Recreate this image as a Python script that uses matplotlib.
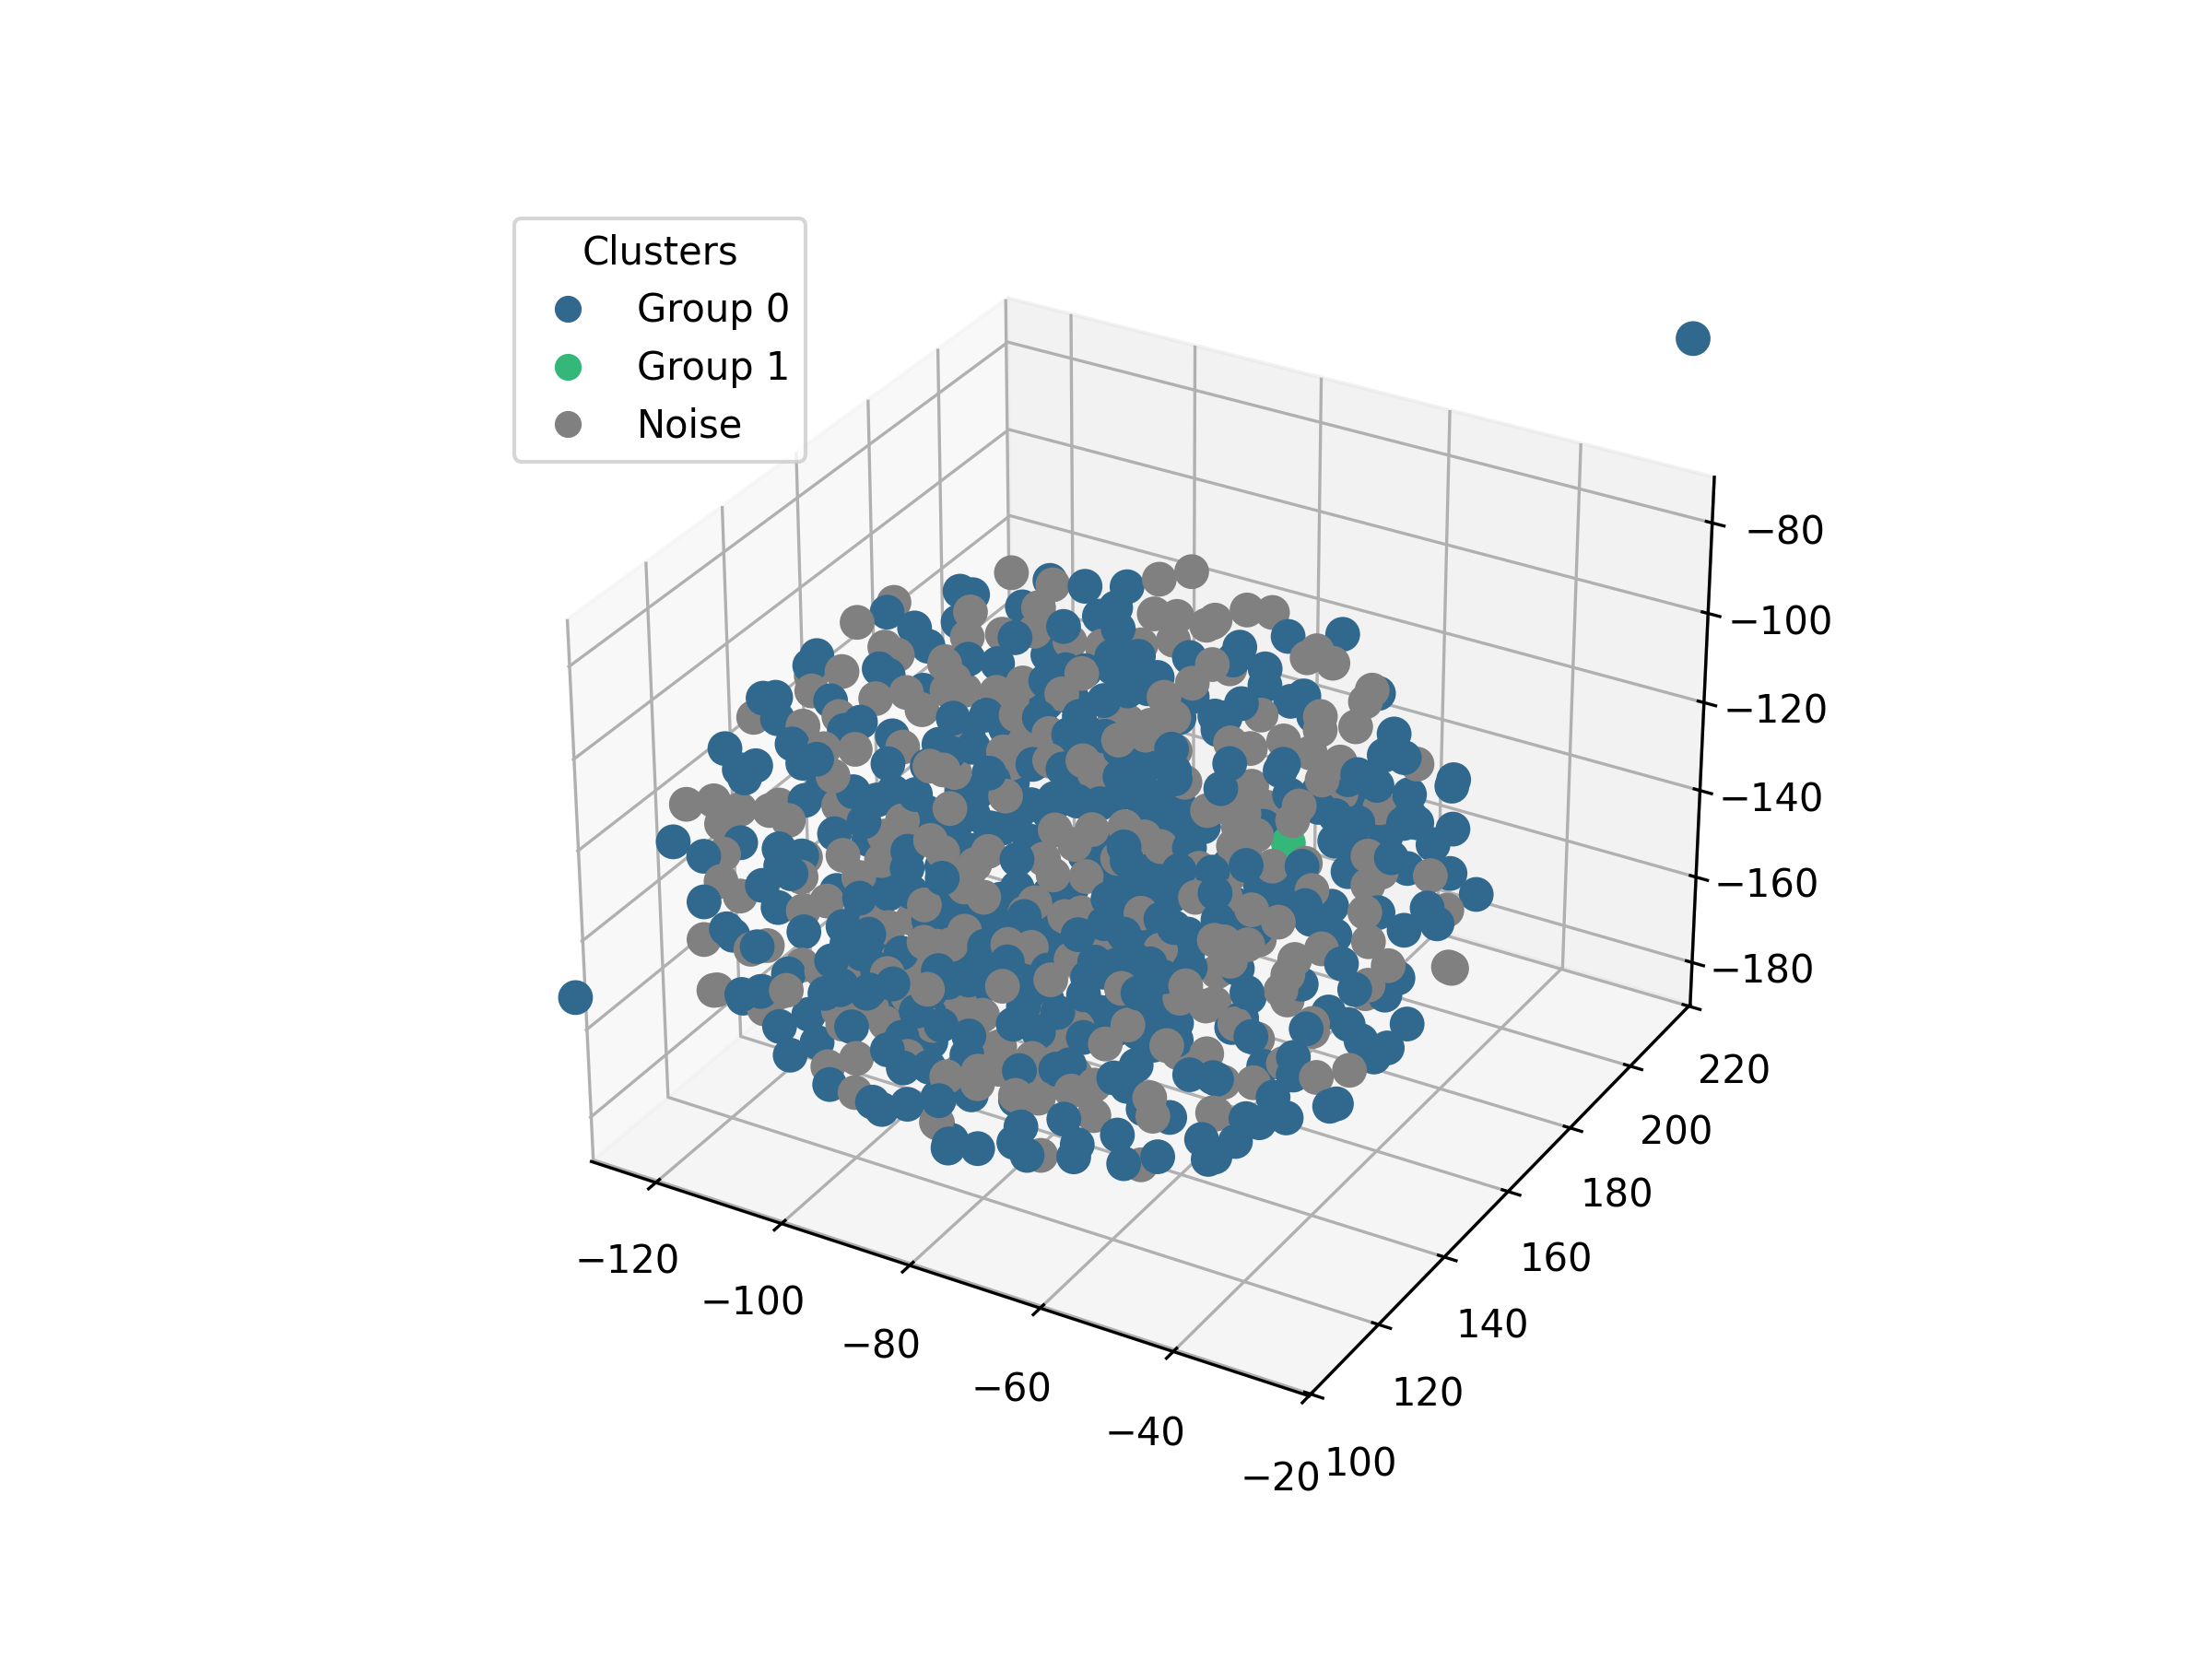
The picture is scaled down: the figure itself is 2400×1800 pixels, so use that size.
import numpy as np
import matplotlib
matplotlib.use("Agg")
import matplotlib.pyplot as plt
from matplotlib.lines import Line2D

# Cluster coordinates
group0_x = [
 -124,-118,-119,-125,-125,-120,-115,-113,-108,-112,-110,-105,-120,-118,-116,-112,-107,-108,-119,-113,-115,-88,-93,-87,-107,
 -108,-114,-109,-104,-101,-96,-94,-90,-86,-90,-95,-85,-111,-109,-100,-95,-90,-108,-100,-99,-93,-89,-87,-85,-74,
 -72,-68,-67,-98,-94,-86,-84,-81,-78,-75,-72,-74,-76,-92,-88,-81,-76,-76,-74,-75,-71,-85,-87,-81,-76,
 -72,-60,-64,-58,-74,-66,-77,-76,-71,-70,-55,-63,-61,-69,-66,-67,-56,-52,-57,-41,-40,-38,-33,-40,-125,
 -122,-116,-118,-119,-126,-121,-117,-117,-109,-116,-111,-110,-105,-105,-121,-131,-125,-128,-114,-111,-110,-105,-112,-124,-117,
 -114,-114,-115,-122,-115,-112,-102,-98,-95,-96,-95,-105,-100,-96,-96,-91,-113,-112,-107,-96,-101,-93,-89,-86,-106,
 -103,-93,-79,-79,-114,-112,-108,-105,-106,-107,-103,-112,-110,-101,-99,-97,-93,-91,-87,-84,-80,-83,-84,-86,-83,
 -87,-90,-92,-90,-92,-94,-98,-99,-100,-97,-101,-103,-104,-104,-105,-91,-89,-87,-89,-84,-82,-81,-78,-78,-75,
 -76,-73,-71,-70,-80,-78,-75,-94,-96,-92,-88,-86,-68,-70,-96,-88,-80,-87,-84,-81,-76,-74,-70,-72,-66,
 -91,-73,-72,-90,-83,-63,-63,-59,-89,-77,-68,-65,-67,-64,-60,-58,-61,-59,-57,-54,-77,-73,-68,-69,-65,
 -62,-62,-75,-77,-55,-74,-77,-72,-69,-74,-67,-73,-72,-68,-58,-59,-56,-53,-63,-62,-59,-57,-44,-54,-49,
 -57,-65,-63,-55,-52,-54,-46,-44,-45,-41,-39,-54,-60,-48,-41,-36,-42,-32,-36,-34,-37,-40,-45,-47,-50,
 -56,-54,-41,-39,-33,-36,-48,-40,-44,-115,-111,-107,-105,-123,-121,-116,-113,-110,-112,-107,-103,-102,-101,-90,-90,
 -90,-87,-83,-89,-87,-83,-77,-75,-77,-107,-97,-95,-87,-84,-79,-78,-80,-98,-96,-90,-90,-86,-84,-80,-81,
 -76,-72,-67,-66,-89,-68,-85,-88,-73,-74,-78,-77,-69,-64,-62,-56,-59,-53,-50,-78,-78,-74,-69,-69,-67,
 -61,-61,-56,-51,-54,-46,-44,-70,-57,-57,-51,-48,-45,-43,-41,-44,-60,-60,-55,-52,-47,-47,-51,-44,-37,
 -36,-44,-42,-39,-43,-45,
 -27.2,-134.7,
]
group0_y = [
 173,174,172,155,153,150,155,154,155,140,141,141,132,132,129,126,124,122,120,118,117,124,119,119,189,
 185,178,180,183,185,188,189,190,189,179,175,177,171,171,177,178,181,165,169,165,168,171,172,169,169,
 166,165,164,150,151,150,152,152,154,156,153,151,148,135,137,139,141,138,139,136,139,128,125,125,128,
 129,137,130,134,199,200,190,186,186,184,189,178,178,170,169,164,171,154,148,165,160,162,167,152,163,
 163,169,166,165,157,152,156,152,157,146,149,144,153,150,144,125,133,128,140,143,145,147,142,133,130,
 131,128,127,118,122,121,126,127,128,129,127,116,118,118,116,118,109,109,107,108,105,105,106,107,101,
 101,101,107,105,176,177,180,180,178,175,176,170,172,178,180,182,183,184,185,185,185,182,179,176,176,
 174,172,172,174,168,165,163,160,157,158,156,154,153,154,154,158,159,158,156,158,160,157,158,164,166,
 166,162,163,161,159,158,158,143,140,143,145,145,155,152,153,159,161,154,155,156,159,159,160,161,163,
 143,148,147,136,136,148,145,147,126,127,134,135,131,131,134,134,128,129,129,131,116,115,117,114,120,
 119,117,108,106,118,192,187,187,186,183,186,178,178,178,188,190,190,188,187,185,177,177,190,187,187,
 184,179,178,176,177,174,179,179,179,178,180,164,159,166,170,173,167,173,166,165,161,159,155,151,147,
 142,139,148,146,151,144,133,136,128,152,152,151,150,129,131,127,130,127,123,129,129,123,115,120,116,
 112,111,111,106,105,105,103,102,104,159,165,166,167,166,169,166,167,151,145,150,147,147,149,149,151,
 152,150,152,150,132,142,126,122,132,130,127,124,123,128,128,129,127,129,130,108,107,108,111,109,109,
 112,111,114,116,112,119,119,180,179,172,173,171,169,169,171,170,158,155,151,149,148,148,133,136,139,
 139,128,128,130,123,119,
 228.0,104.1,
]
group0_z = [
 -111,-117,-112,-110,-111,-115,-109,-109,-111,-112,-110,-111,-103,-102,-104,-106,-106,-106,-106,-106,-107,-95,-98,-96,-124,
 -134,-138,-136,-130,-129,-122,-122,-123,-130,-133,-135,-133,-100,-100,-97,-97,-97,-102,-98,-102,-99,-97,-95,-97,-99,
 -105,-107,-109,-97,-97,-97,-95,-94,-91,-91,-95,-95,-96,-98,-97,-96,-95,-97,-96,-99,-96,-97,-97,-99,-97,
 -97,-93,-96,-95,-113,-110,-111,-111,-111,-113,-112,-110,-108,-111,-106,-108,-106,-104,-102,-100,-101,-102,-108,-100,-151,
 -156,-151,-150,-145,-142,-160,-158,-163,-165,-166,-167,-168,-161,-162,-134,-135,-138,-139,-136,-134,-130,-128,-127,-123,-134,
 -135,-137,-135,-140,-136,-139,-136,-134,-133,-125,-127,-138,-136,-136,-139,-138,-136,-137,-136,-135,-138,-138,-137,-135,-142,
 -140,-136,-129,-132,-150,-150,-148,-152,-153,-155,-157,-154,-151,-151,-148,-146,-147,-146,-146,-146,-150,-151,-156,-158,-160,
 -158,-157,-153,-150,-158,-158,-157,-158,-160,-161,-158,-157,-158,-154,-149,-160,-160,-162,-162,-162,-161,-165,-164,-153,-151,
 -148,-157,-156,-159,-151,-154,-155,-158,-160,-158,-159,-159,-160,-161,-125,-123,-125,-126,-126,-126,-125,-127,-127,-120,-121,
 -127,-127,-129,-127,-126,-123,-126,-126,-126,-130,-127,-125,-130,-131,-128,-129,-133,-134,-136,-134,-129,-130,-131,-134,-124,
 -128,-130,-130,-130,-131,-152,-159,-161,-162,-164,-159,-167,-164,-164,-147,-139,-138,-143,-136,-138,-157,-157,-129,-131,-131,
 -129,-127,-131,-131,-132,-135,-131,-130,-129,-133,-130,-134,-133,-134,-133,-134,-129,-137,-137,-139,-139,-135,-133,-131,-132,
 -126,-129,-133,-137,-141,-140,-133,-135,-133,-184,-184,-187,-187,-170,-169,-172,-170,-173,-174,-160,-160,-163,-170,-152,-155,
 -155,-157,-155,-162,-162,-159,-154,-162,-138,-187,-187,-184,-184,-186,-183,-187,-179,-173,-178,-172,-174,-174,-170,-174,-166,
 -167,-170,-167,-169,-170,-170,-173,-172,-165,-165,-165,-169,-169,-161,-162,-167,-165,-156,-156,-167,-168,-167,-162,-164,-166,
 -163,-165,-160,-164,-164,-160,-163,-182,-179,-178,-175,-176,-177,-174,-169,-163,-167,-167,-164,-168,-167,-163,-159,-162,-163,
 -162,-161,-161,-160,-162,-164,
 -46.9,-157.6,
]
group1_x = [-68.6]
group1_y = [189.0]
group1_z = [-151.6]
noise_x = [
 -124,-126,-121,-119,-113,-126,-121,-123,-109,-106,-111,-114,-108,-121,-112,-107,-93,-86,-115,-109,-106,-89,-87,-93,-91,
 -88,-94,-102,-108,-98,-105,-99,-86,-82,-106,-106,-98,-101,-97,-92,-87,-85,-82,-81,-78,-74,-73,-77,-71,-72,
 -100,-98,-98,-92,-89,-83,-81,-69,-67,-84,-79,-69,-66,-81,-74,-60,-69,-84,-82,-78,-85,-70,-68,-65,-77,
 -56,-55,-55,-64,-54,-54,-62,-59,-55,-51,-47,-38,-120,-117,-111,-114,-113,-109,-107,-133,-131,-128,-125,-124,-122,
 -128,-126,-115,-106,-114,-114,-113,-108,-105,-121,-118,-106,-108,-93,-99,-93,-94,-88,-86,-116,-106,-108,-100,-97,-88,
 -111,-99,-79,-101,-84,-93,-99,-71,-67,-79,-75,-72,-70,-74,-82,-79,-88,-89,-89,-89,-86,-80,-78,-74,-61,
 -60,-90,-78,-77,-73,-71,-67,-63,-59,-53,-51,-80,-81,-74,-71,-67,-65,-58,-71,-76,-50,-82,-78,-75,-78,
 -76,-75,-68,-60,-53,-60,-70,-61,-61,-67,-69,-64,-61,-58,-54,-46,-38,-43,-44,-34,-41,-47,-52,-55,-48,
 -42,-37,-34,-35,-50,-47,-48,-41,-41,-41,-27,-27,-110,-126,-119,-119,-104,-107,-104,-103,-99,-97,-93,-88,-88,
 -78,-78,-102,-91,-92,-74,-95,-87,-84,-89,-97,-96,-98,-90,-82,-76,-73,-67,-63,-81,-84,-89,-85,-84,-87,
 -77,-74,-70,-67,-66,-58,-57,-57,-52,-49,-66,-53,-75,-64,-58,-57,-47,-59,-55,-49,-43,-39,-52,-48,-49,
]
noise_y = [
 175,168,167,167,170,155,155,150,152,151,147,142,136,131,129,126,123,118,179,183,180,186,186,183,183,
 182,178,169,165,171,175,176,183,185,164,165,170,165,167,168,168,168,170,172,173,174,174,170,170,166,
 147,146,144,147,149,149,151,152,151,138,138,139,141,129,129,138,129,118,202,202,198,197,196,195,187,
 187,187,182,171,169,169,158,158,160,160,161,166,164,167,156,151,143,148,148,132,136,138,141,142,141,
 133,130,143,145,140,132,129,132,131,121,121,124,121,128,127,130,120,119,119,108,108,107,107,107,109,
 102,101,104,151,160,151,146,162,161,150,152,152,153,148,145,145,137,135,133,132,132,138,137,139,147,
 144,128,129,130,131,132,131,134,132,136,133,116,114,117,118,116,118,119,110,107,122,195,196,195,192,
 190,183,179,188,186,182,176,177,175,172,170,163,164,163,165,168,171,166,164,168,157,153,145,143,145,
 146,150,150,146,133,134,131,136,134,132,154,155,146,127,132,128,132,128,124,118,119,115,123,121,114,
 107,104,158,163,162,166,152,152,154,150,144,149,147,151,151,148,149,153,153,136,132,126,128,126,120,
 124,125,127,128,126,127,126,130,132,128,111,115,179,180,176,174,170,154,153,149,147,149,137,138,129,
]
noise_z = [
 -110,-111,-114,-115,-116,-115,-112,-114,-110,-112,-109,-111,-112,-107,-104,-105,-97,-95,-129,-130,-138,-131,-133,-129,-129,
 -135,-134,-134,-131,-131,-96,-97,-95,-93,-104,-99,-98,-102,-101,-102,-101,-101,-100,-94,-94,-95,-94,-97,-100,-102,
 -97,-99,-100,-100,-98,-98,-94,-95,-98,-96,-98,-96,-95,-97,-96,-94,-94,-95,-112,-111,-113,-115,-112,-113,-114,
 -113,-110,-115,-109,-107,-104,-106,-106,-104,-105,-106,-106,-155,-154,-165,-163,-170,-168,-169,-132,-133,-135,-136,-135,-137,
 -135,-139,-132,-133,-123,-136,-138,-133,-136,-137,-139,-137,-138,-135,-127,-122,-135,-135,-135,-139,-136,-137,-137,-137,-135,
 -144,-138,-131,-124,-123,-126,-128,-121,-125,-127,-126,-127,-129,-130,-125,-127,-127,-129,-130,-132,-133,-126,-128,-128,-126,
 -130,-122,-131,-129,-131,-130,-132,-128,-133,-131,-135,-127,-129,-128,-128,-132,-128,-132,-131,-133,-130,-150,-147,-150,-154,
 -157,-158,-167,-136,-135,-129,-131,-132,-134,-133,-131,-133,-130,-135,-134,-131,-134,-132,-134,-138,-134,-129,-130,-127,-131,
 -135,-134,-138,-140,-128,-128,-130,-130,-132,-134,-138,-139,-182,-168,-169,-170,-166,-165,-164,-169,-166,-170,-152,-155,-157,
 -152,-160,-192,-190,-188,-187,-185,-190,-188,-188,-186,-176,-174,-172,-174,-173,-168,-162,-162,-170,-171,-172,-169,-170,-176,
 -168,-168,-166,-164,-169,-162,-165,-152,-153,-162,-167,-166,-185,-180,-180,-180,-164,-165,-166,-166,-165,-163,-163,-162,-163,
]

GROUP0_COLOR = "#31688e"
GROUP1_COLOR = "#35b779"
NOISE_COLOR = "#808080"

x = np.array(group0_x + group1_x + noise_x, float)
y = np.array(group0_y + group1_y + noise_y, float)
z = np.array(group0_z + group1_z + noise_z, float)
colors = [GROUP0_COLOR] * len(group0_x) + [GROUP1_COLOR] * len(group1_x) + [NOISE_COLOR] * len(noise_x)

fig = plt.figure(figsize=(8, 6), dpi=300)
ax = fig.add_subplot(projection="3d")

# A single collection so that depth sorting interleaves the groups
ax.scatter(x, y, z, c=colors, s=65, alpha=1, depthshade=False)
ax.set_xlim(-130.4, -20)
ax.set_ylim(99.5, 220.5)
ax.set_zlim(-190, -70)

handles = [
    Line2D([], [], marker="o", linestyle="", color=GROUP0_COLOR, label="Group 0"),
    Line2D([], [], marker="o", linestyle="", color=GROUP1_COLOR, label="Group 1"),
    Line2D([], [], marker="o", linestyle="", color=NOISE_COLOR, label="Noise"),
]
ax.legend(handles=handles, title="Clusters", loc="upper left")

fig.savefig("out.png", dpi=300)
